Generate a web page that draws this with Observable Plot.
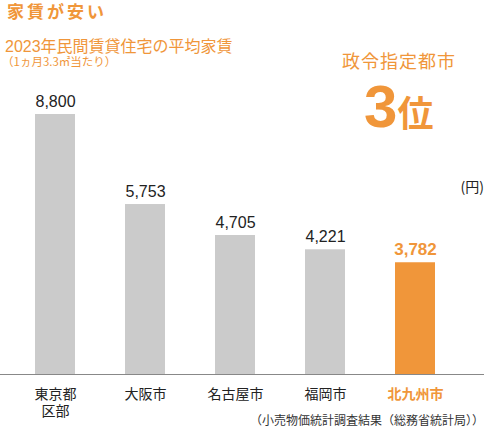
<!DOCTYPE html>
<html>
<head>
<meta charset="utf-8">
<script src="https://cdn.jsdelivr.net/npm/d3@7"></script>
<script src="https://cdn.jsdelivr.net/npm/@observablehq/plot@0.6"></script>
<style>
  html, body { margin: 0; padding: 0; background: #fff; }
  #wrap { position: relative; width: 486px; height: 429px; overflow: hidden;
    font-family: "Liberation Sans", "Noto Sans CJK JP", sans-serif; }
  #wrap svg { position: absolute; left: 0; top: 0; }
  .t { position: absolute; line-height: 1; white-space: nowrap; }
  .cjk { font-family: "Noto Sans CJK JP", sans-serif; }
</style>
</head>
<body>
<div id="wrap">
  <div class="t cjk" style="left:7px; top:2px; font-size:17px; font-weight:700; letter-spacing:3px; color:#F0963A;">家賃が安い</div>
  <div class="t" style="left:5px; top:37px; font-size:16px; color:#F0963A;"><span>2023</span><span class="cjk">年民間賃貸住宅の平均家賃</span></div>
  <div class="t cjk" style="left:2px; top:56px; font-size:11.5px; color:#F0963A;">（1ヵ月3.3㎡当たり）</div>
  <div class="t cjk" style="left:342px; top:51px; font-size:18px; letter-spacing:1px; color:#F0963A;">政令指定都市</div>
  <div class="t" style="left:364px; top:77px; color:#F0963A; font-weight:700;"><span style="font-size:60px; font-family:'Liberation Sans',sans-serif;">3</span><span class="cjk" style="font-size:36px;">位</span></div>
  <div class="t cjk" style="right:2px; top:179px; font-size:14px; color:#222;">(円)</div>
  <div class="t cjk" style="right:2px; top:414px; font-size:12px; color:#333;">（小売物価統計調査結果（総務省統計局））</div>
</div>
<script>
const cities = ["東京都区部", "大阪市", "名古屋市", "福岡市", "北九州市"];
const labels = ["東京都\n区部", "大阪市", "名古屋市", "福岡市", "北九州市"];
const values = [8800, 5753, 4705, 4221, 3782];
const highlight = "北九州市";

const orange = "#F0963A";
const gray = "#CBCBCB";

const data = cities.map((c, i) => ({city: c, label: labels[i], value: values[i], hi: c === highlight}));
const fmt = d3.format(",");

const chart = Plot.plot({
  width: 486,
  height: 429,
  marginTop: 114,
  marginBottom: 55,
  marginLeft: 33,
  marginRight: 50,
  x: {domain: cities, paddingInner: 0.56, paddingOuter: 0, axis: null},
  y: {domain: [0, 8800], axis: null},
  style: {fontFamily: "'Liberation Sans', 'Noto Sans CJK JP', sans-serif", background: "transparent"},
  marks: [
    Plot.barY(data.filter(d => !d.hi), {x: "city", y: "value", fill: gray}),
    Plot.barY(data.filter(d => d.hi), {x: "city", y: "value", fill: orange}),
    Plot.ruleY([0], {stroke: "#888", strokeWidth: 1, insetLeft: -33, insetRight: -48}),
    Plot.text(data.filter(d => !d.hi), {x: "city", y: "value", text: d => fmt(d.value), dy: -13, fontSize: 16, fill: "#222"}),
    Plot.text(data.filter(d => d.hi), {x: "city", y: "value", text: d => fmt(d.value), dy: -13, fontSize: 17, fontWeight: "bold", fill: orange}),
    Plot.text(data.filter(d => !d.hi), {x: "city", y: d => 0, text: "label", lineAnchor: "top", dy: 13, fontSize: 14, lineHeight: 1.2, fill: "#222", fontFamily: "'Noto Sans CJK JP', sans-serif"}),
    Plot.text(data.filter(d => d.hi), {x: "city", y: d => 0, text: "label", lineAnchor: "top", dy: 13, fontSize: 14, lineHeight: 1.2, fill: orange, fontWeight: "bold", fontFamily: "'Noto Sans CJK JP', sans-serif"})
  ]
});
document.getElementById("wrap").prepend(chart);
</script>
</body>
</html>
